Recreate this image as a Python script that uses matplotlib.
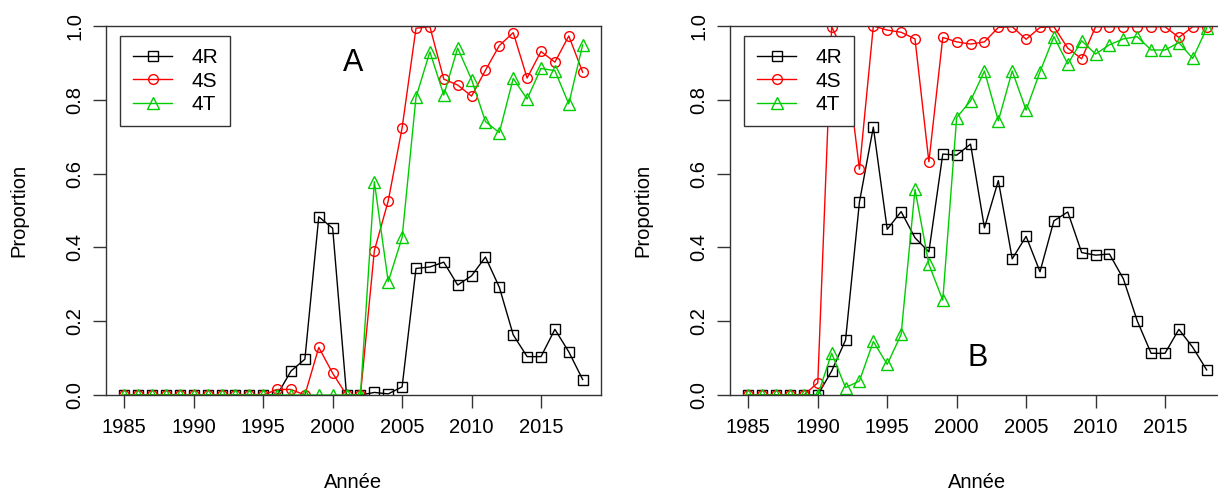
import matplotlib
matplotlib.use("Agg")
import matplotlib.pyplot as plt

plt.rcParams['font.family'] = ['Liberation Sans', 'DejaVu Sans']

years = list(range(1985, 2019))
series_names = ["4R", "4S", "4T"]
series_colors = ["black", "#FF0000", "#00CD00"]
series_markers = ["s", "o", "^"]
marker_sizes = [7.5, 7.0, 9.0]
panel_letters = ["A", "B"]

# panel A
r_a = [0] * 12 + [0.065, 0.097, 0.483, 0.452, 0, 0, 0.007, 0.003, 0.022, 0.343, 0.347,
                  0.360, 0.298, 0.323, 0.374, 0.292, 0.163, 0.104, 0.104, 0.178, 0.117, 0.042]
s_a = [0] * 11 + [0.015, 0.015, 0, 0.129, 0.059, 0, 0, 0.391, 0.526, 0.724, 0.994, 0.998,
                  0.856, 0.840, 0.810, 0.880, 0.947, 0.982, 0.859, 0.931, 0.902, 0.973, 0.875]
t_a = [0] * 18 + [0.578, 0.307, 0.427, 0.807, 0.930, 0.813, 0.940, 0.855, 0.741, 0.711,
                  0.858, 0.802, 0.885, 0.879, 0.789, 0.949]

# panel B
r_b = [0] * 6 + [0.065, 0.149, 0.523, 0.726, 0.449, 0.497, 0.426, 0.388, 0.653, 0.650,
                 0.680, 0.453, 0.581, 0.369, 0.430, 0.334, 0.472, 0.496, 0.386, 0.379,
                 0.382, 0.315, 0.201, 0.113, 0.113, 0.178, 0.129, 0.068]
s_b = [0] * 5 + [0.033, 0.998, 0.919, 0.612, 1.0, 0.989, 0.983, 0.965, 0.632, 0.969, 0.957,
                 0.951, 0.957, 0.996, 0.998, 0.964, 0.996, 0.998, 0.940, 0.911, 0.998,
                 0.998, 0.998, 0.998, 0.998, 0.998, 0.969, 0.998, 0.998]
t_b = [0] * 6 + [0.113, 0.020, 0.038, 0.145, 0.083, 0.164, 0.557, 0.354, 0.257, 0.752,
                 0.797, 0.878, 0.743, 0.878, 0.772, 0.876, 0.971, 0.897, 0.960, 0.924,
                 0.949, 0.965, 0.971, 0.935, 0.935, 0.955, 0.912, 0.994]

panels = [[r_a, s_a, t_a], [r_b, s_b, t_b]]
letter_pos = [(2001.5, 0.9), (2001.5, 0.1)]
fs = 14.5

fig = plt.figure(figsize=(12.18, 4.93), dpi=100)
ax_w = 495 / 1218
ax_h = 369 / 493
lefts = [106 / 1218, 730 / 1218]

for k in range(2):
    ax = fig.add_axes([lefts[k], 98 / 493, ax_w, ax_h])
    for vals, name, col, mk, ms in zip(panels[k], series_names, series_colors,
                                       series_markers, marker_sizes):
        ax.plot(years, vals, color=col, marker=mk, markersize=ms, mfc='none',
                mec=col, mew=1.0, lw=1.0, label=name)
    ax.set_xlim(1983.68, 2019.32)
    ax.set_ylim(0, 1)
    ax.set_xticks([1985, 1990, 1995, 2000, 2005, 2010, 2015])
    ax.set_yticks([0, 0.2, 0.4, 0.6, 0.8, 1.0])
    ax.set_yticklabels(["0.0", "0.2", "0.4", "0.6", "0.8", "1.0"], rotation=90, va='center')
    ax.tick_params(direction='out', length=9.4, width=1.0, labelsize=fs, color='#333333')
    ax.tick_params(axis='x', pad=7)
    ax.tick_params(axis='y', pad=6)
    for sp in ax.spines.values():
        sp.set_linewidth(1.0)
        sp.set_color('#333333')
    ax.set_xlabel("Année", fontsize=fs, va='center')
    ax.xaxis.set_label_coords(0.5, -88 / 369)
    ax.set_ylabel("Proportion", fontsize=fs, va='center')
    ax.yaxis.set_label_coords(-87 / 495, 0.5)
    ax.text(letter_pos[k][0], letter_pos[k][1], panel_letters[k], fontsize=22,
            ha='center', va='center')
    leg = ax.legend(loc='upper left', bbox_to_anchor=(0.029, 0.973), borderaxespad=0,
                    fontsize=15, fancybox=False, framealpha=1, edgecolor='#333333',
                    borderpad=0.6, labelspacing=0.2, handlelength=1.9, handletextpad=0.9)
    leg.get_frame().set_linewidth(1.0)

fig.savefig("out.png", dpi=100)
